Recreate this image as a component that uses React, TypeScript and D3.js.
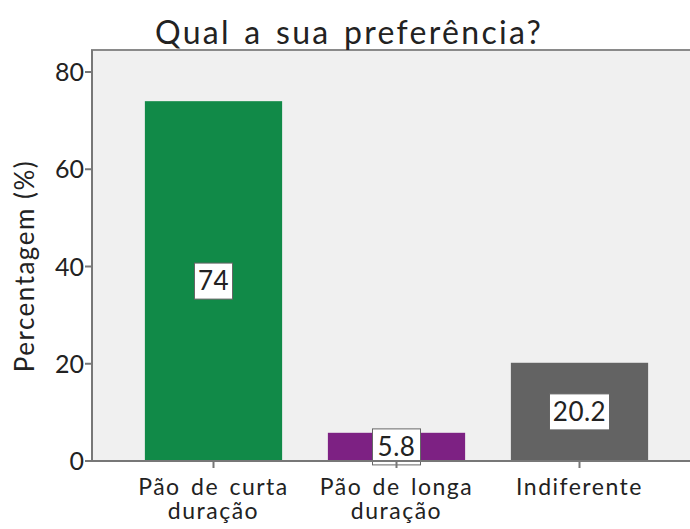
import React from "react";
import * as d3 from "d3";

const categories = [["Pão de curta", "duração"], ["Pão de longa", "duração"], ["Indiferente"]];
const categoryKeys = ["curta", "longa", "indif"];
const values = [74, 5.8, 20.2];
const labels = ["74", "5.8", "20.2"];
const colors = ["#118a48", "#7d2183", "#636363"];
const yTicks = [0, 20, 40, 60, 80];

const W = 690, H = 529;
const left = 92, right = 700, top = 50, zeroY = 461;
const FONT = "Lato, 'Open Sans', sans-serif";

export default function App() {
  const y = d3.scaleLinear().domain([0, 80]).range([zeroY, 72]);
  const x = d3.scaleBand<string>().domain(categoryKeys).range([122, 671]).paddingInner(0.25).paddingOuter(0.125);
  const labelBox = [38, 48, 60];
  return (
    <svg width={W} height={H} style={{ position: "absolute", left: 0, top: 0, background: "#fff" }} fontFamily={FONT}>
      <rect x={left} y={top} width={right - left} height={zeroY - top} fill="#f0f0f0" stroke="#8a8a8a" strokeWidth={2} />
      <text x={349} y={44} textAnchor="middle" fontSize={32} letterSpacing={2.3} wordSpacing={3} fill="#222">Qual a sua preferência?</text>
      {values.map((v, i) => {
        const bx = x(categoryKeys[i])!;
        const bw = x.bandwidth();
        const yt = y(v);
        const cy = (yt + zeroY) / 2;
        const lw = labelBox[i];
        return (
          <g key={i}>
            <rect x={bx} y={yt} width={bw} height={zeroY - yt} fill={colors[i]} />
            <rect x={bx + bw / 2 - lw / 2} y={cy - 18} width={lw} height={36} fill="#fff" stroke="#666" strokeWidth={1} />
            <text x={bx + bw / 2} y={cy + 9} textAnchor="middle" fontSize={26} letterSpacing={0.5} fill="#222">{labels[i]}</text>
          </g>
        );
      })}
      <line x1={left} x2={right} y1={zeroY} y2={zeroY} stroke="#777" strokeWidth={2} />
      <line x1={left} x2={left} y1={top} y2={zeroY} stroke="#777" strokeWidth={2} />
      {yTicks.map(t => (
        <g key={t}>
          <line x1={left - 7} x2={left} y1={y(t)} y2={y(t)} stroke="#777" strokeWidth={2} />
          <text x={left - 8} y={y(t) + 9} textAnchor="end" fontSize={25} fill="#222">{t}</text>
        </g>
      ))}
      {categories.map((lines, i) => {
        const cx = x(categoryKeys[i])! + x.bandwidth() / 2;
        return (
          <g key={i}>
            <line x1={cx} x2={cx} y1={zeroY} y2={zeroY + 7} stroke="#777" strokeWidth={2} />
            {lines.map((l, j) => (
              <text key={j} x={cx} y={495 + j * 24} textAnchor="middle" fontSize={23} letterSpacing={1.5} wordSpacing={3} fill="#222">{l}</text>
            ))}
          </g>
        );
      })}
      <text transform={`translate(34, 266) rotate(-90)`} textAnchor="middle" fontSize={26} letterSpacing={1.5} fill="#222">Percentagem (%)</text>
    </svg>
  );
}
